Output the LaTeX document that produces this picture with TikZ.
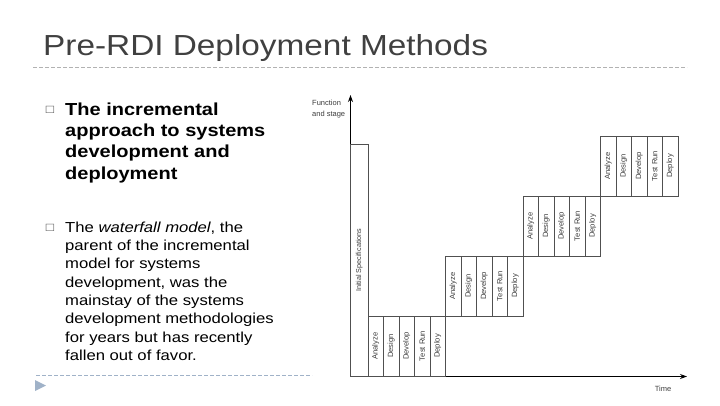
\documentclass[tikz,border=0pt]{standalone}
\usepackage{fontspec}
\setmainfont{Liberation Sans}[FakeStretch=1.15]
\newfontfamily\figfont{Liberation Sans}
\usetikzlibrary{arrows.meta}

\definecolor{titlegray}{RGB}{64,64,64}
\definecolor{rulegray}{RGB}{178,178,178}
\definecolor{navblue}{RGB}{160,178,200}
\definecolor{boxgray}{RGB}{80,80,80}
\definecolor{labelgray}{RGB}{60,60,60}

\begin{document}
\begin{tikzpicture}[x=1pt, y=-1pt, >={Stealth[length=7pt,width=5pt]},
  stagecol/.style={draw=boxgray, line width=0.8pt, rotate=90, inner sep=0pt,
    minimum width=60pt, minimum height=15.5pt, text=labelgray,
    font=\figfont\fontsize{7.6}{8}\selectfont},
  axislabel/.style={inner sep=0pt, text=labelgray, font=\figfont\fontsize{7.5}{11}\selectfont},
  bulletmark/.style={inner sep=0pt, text=boxgray, font=\fontsize{12}{12}\selectfont},
  boldtext/.style={inner sep=0pt, anchor=north west, align=left,
    font=\fontsize{17.4}{21.3}\selectfont\bfseries},
  plaintext/.style={inner sep=0pt, anchor=north west, align=left,
    font=\fontsize{14.5}{18.3}\selectfont}]

  \useasboundingbox (0,0) rectangle (720,405);

  % 标题与分隔线
  \node[anchor=base west, inner sep=0pt, text=titlegray,
    font=\fontsize{29}{34}\selectfont] (title) at (43,55) {Pre-RDI Deployment Methods};
  \draw[rulegray, dash pattern=on 4pt off 2pt] (33,67.5) -- (687,67.5);

  % 左侧两个要点
  \node[bulletmark] (m1) at (50,110) {□};
  \node[boldtext] (t1) at (65,102.5) {The incremental\\approach to systems\\development and\\deployment};
  \node[bulletmark] (m2) at (50,227.5) {□};
  \node[plaintext] (t2) at (65,221.5) {The \textit{waterfall model}, the\\parent of the incremental\\model for systems\\development, was the\\mainstay of the systems\\development methodologies\\for years but has recently\\fallen out of favor.};

  % 底部分隔线与三角
  \draw[navblue, dash pattern=on 4pt off 2pt] (36,375) -- (312,375);
  \fill[navblue] (35,380) -- (46,385.5) -- (35,391) -- cycle;

  % 坐标轴
  \coordinate (origin) at (350.5,376.5);
  \coordinate (ytop) at (350.5,95);
  \coordinate (xend) at (687,376.5);
  \draw[->, line width=0.9pt] (origin) -- (ytop);
  \draw[->, line width=0.9pt] (origin) -- (xend);
  \node[axislabel, anchor=north west, align=left] (ylabel) at (312,100) {Function\\and stage};
  \node[axislabel] (xlabel) at (663,389) {Time};

  % 初始规格
  \node[stagecol, minimum width=232.5pt, minimum height=17.5pt,
    font=\figfont\fontsize{7.2}{8}\selectfont] (spec) at (359.25,260.25) {Initial Specifications};

  % 四个增量阶段，每个阶段五列
  \foreach \k in {0,...,3} {
    \foreach \lbl [count=\j from 0] in {Analyze,Design,Develop,Test Run,Deploy} {
      \node[stagecol] (s\k-\j) at ({375.75+77.5*\k+15.5*\j}, {346-60*\k}) {\lbl};
    }
  }

\end{tikzpicture}
\end{document}
